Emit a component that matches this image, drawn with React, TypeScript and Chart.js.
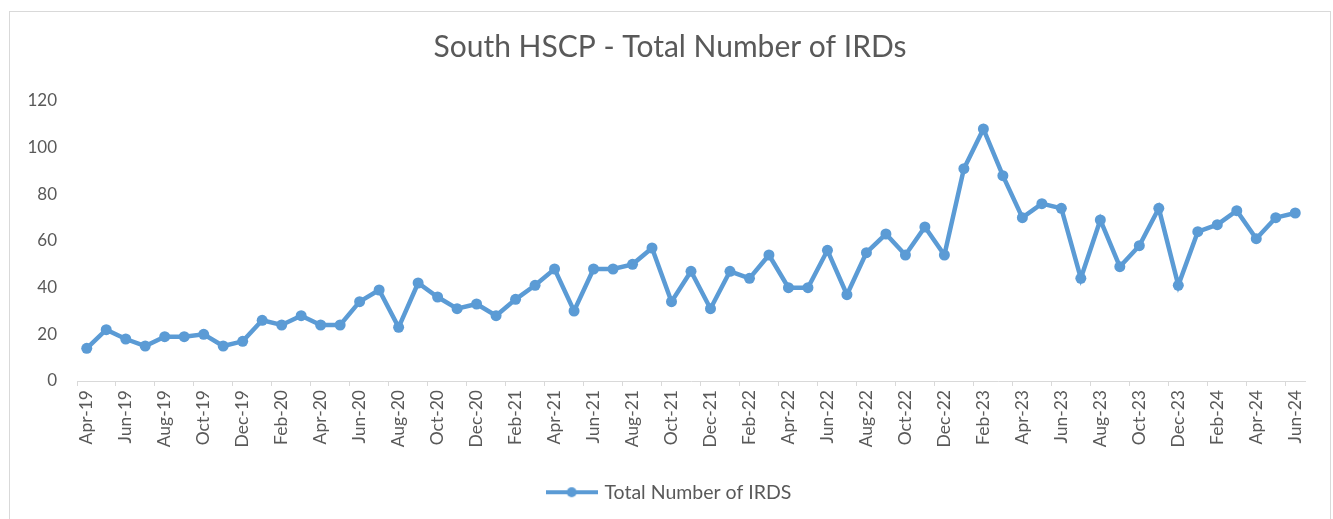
import React, { useEffect, useRef } from "react";
import { Chart, registerables } from "chart.js";

Chart.register(...registerables);

// Monthly categories, Apr-19 through Jun-24
const months = [
  "Apr-19", "May-19", "Jun-19", "Jul-19", "Aug-19", "Sep-19", "Oct-19", "Nov-19", "Dec-19",
  "Jan-20", "Feb-20", "Mar-20", "Apr-20", "May-20", "Jun-20", "Jul-20", "Aug-20", "Sep-20", "Oct-20", "Nov-20", "Dec-20",
  "Jan-21", "Feb-21", "Mar-21", "Apr-21", "May-21", "Jun-21", "Jul-21", "Aug-21", "Sep-21", "Oct-21", "Nov-21", "Dec-21",
  "Jan-22", "Feb-22", "Mar-22", "Apr-22", "May-22", "Jun-22", "Jul-22", "Aug-22", "Sep-22", "Oct-22", "Nov-22", "Dec-22",
  "Jan-23", "Feb-23", "Mar-23", "Apr-23", "May-23", "Jun-23", "Jul-23", "Aug-23", "Sep-23", "Oct-23", "Nov-23", "Dec-23",
  "Jan-24", "Feb-24", "Mar-24", "Apr-24", "May-24", "Jun-24",
];

// Total number of IRDs per month
const totalIrds = [
  14, 22, 18, 15, 19, 19, 20, 15, 17,
  26, 24, 28, 24, 24, 34, 39, 23, 42, 36, 31, 33,
  28, 35, 41, 48, 30, 48, 48, 50, 57, 34, 47, 31,
  47, 44, 54, 40, 40, 56, 37, 55, 63, 54, 66, 54,
  91, 108, 88, 70, 76, 74, 44, 69, 49, 58, 74, 41,
  64, 67, 73, 61, 70, 72,
];

const yMin = 0;
const yMax = 120;
const yStep = 20;

const seriesName = "Total Number of IRDS";
const chartTitle = "South HSCP - Total Number of IRDs";

const BLUE = "#5B9BD5";
const TEXT = "#595959";
const AXIS = "#d9d9d9";
const FONT = "Lato, 'Open Sans', sans-serif";

// Legend swatch: a short line with a round marker in the middle
function makeLegendMarker(): HTMLCanvasElement {
  const c = document.createElement("canvas");
  c.width = 52;
  c.height = 12;
  const g = c.getContext("2d")!;
  g.strokeStyle = BLUE;
  g.lineWidth = 4;
  g.beginPath();
  g.moveTo(0, 6);
  g.lineTo(52, 6);
  g.stroke();
  g.fillStyle = BLUE;
  g.beginPath();
  g.arc(26, 6, 5, 0, Math.PI * 2);
  g.fill();
  return c;
}

export default function App() {
  const canvasRef = useRef<HTMLCanvasElement | null>(null);

  useEffect(() => {
    if (!canvasRef.current) return;
    const marker = makeLegendMarker();
    const chart = new Chart(canvasRef.current, {
      type: "line",
      data: {
        labels: months,
        datasets: [
          {
            label: seriesName,
            data: totalIrds,
            borderColor: BLUE,
            backgroundColor: BLUE,
            borderWidth: 4.5,
            pointRadius: 5.5,
            pointBackgroundColor: BLUE,
            pointBorderWidth: 0,
            tension: 0,
          },
        ],
      },
      options: {
        responsive: false,
        animation: false,
        devicePixelRatio: 1,
        layout: { padding: { left: 0, right: 0, top: 0, bottom: 7 } },
        plugins: {
          title: {
            display: true,
            text: chartTitle,
            color: TEXT,
            font: { family: FONT, size: 30, weight: "normal" },
            padding: { top: 17.5, bottom: 35.5 },
          },
          legend: {
            position: "bottom",
            labels: {
              usePointStyle: true,
              pointStyle: marker,
              pointStyleWidth: 46,
              color: TEXT,
              font: { family: FONT, size: 19.5 },
              padding: 10,
            },
          },
          tooltip: { enabled: false },
        },
        scales: {
          x: {
            offset: true,
            afterFit: (scale: any) => {
              scale.height = 91.5;
            },
            grid: {
              offset: true,
              drawOnChartArea: false,
              drawTicks: true,
              tickLength: 5,
              color: (ctx: any) => (ctx.index % 2 === 0 ? AXIS : "rgba(0,0,0,0)"),
            },
            border: { display: true, color: AXIS, width: 1 },
            ticks: {
              autoSkip: false,
              maxRotation: 90,
              minRotation: 90,
              padding: 4,
              color: TEXT,
              font: { family: FONT, size: 17.5 },
              callback: (_v: any, i: number) => (i % 2 === 0 ? months[i] : ""),
            },
          },
          y: {
            min: yMin,
            max: yMax,
            afterFit: (scale: any) => {
              scale.width = 67;
            },
            grid: { display: false, drawTicks: false },
            border: { display: false },
            ticks: {
              stepSize: yStep,
              padding: 20,
              color: TEXT,
              font: { family: FONT, size: 17 },
            },
          },
          // Empty right-hand gutter so the plot ends short of the frame
          gutter: {
            type: "linear",
            position: "right",
            afterFit: (scale: any) => {
              scale.width = 25;
            },
            grid: { display: false, drawTicks: false },
            border: { display: false },
            ticks: { display: false },
          },
        },
      },
    });
    return () => chart.destroy();
  }, []);

  return (
    <div
      style={{
        position: "absolute",
        left: 9,
        top: 11,
        width: 1320,
        height: 520,
        border: `1px solid ${AXIS}`,
        background: "#fff",
      }}
    >
      <canvas ref={canvasRef} width={1320} height={507} style={{ display: "block" }} />
    </div>
  );
}
